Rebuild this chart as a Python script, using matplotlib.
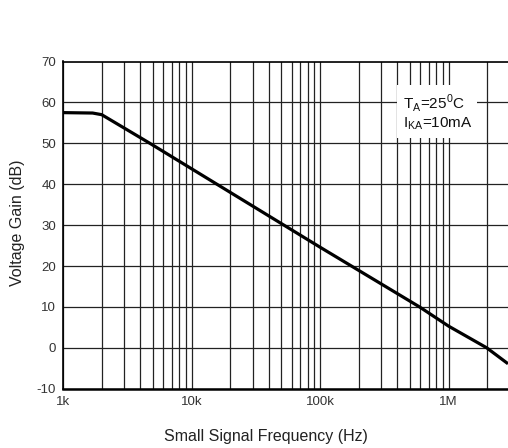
import numpy as np
import matplotlib
matplotlib.use("Agg")
import matplotlib.pyplot as plt
from matplotlib.patches import Rectangle
from matplotlib.ticker import LogLocator, FixedLocator, FixedFormatter, NullFormatter

plt.rcParams['font.family'] = ['Liberation Sans', 'DejaVu Sans']
plt.rcParams['mathtext.fontset'] = 'custom'
plt.rcParams['mathtext.rm'] = 'Liberation Sans'
plt.rcParams['axes.unicode_minus'] = False

# gain curve
freq_hz = [1e3, 1.7e3, 2e3, 4.74e3, 1e5, 5.94e5, 1e6, 1.98e6, 2.9e6]
gain_db = [57.5, 57.4, 57.0, 50.0, 24.6, 10.0, 5.3, 0.0, -3.9]

xticks = [1e3, 1e4, 1e5, 1e6]
xticklabels = ['1k', '10k', '100k', '1M']
yticks = [-10, 0, 10, 20, 30, 40, 50, 60, 70]

fig = plt.figure(figsize=(5.08, 4.48), dpi=100)
ax = fig.add_axes([63/508, 59.3/448, 1 - 63/508, 327.2/448])

ax.set_xscale('log')
ax.set_xlim(1e3, 2.9e6)
ax.set_ylim(-10, 70)

ax.xaxis.set_major_locator(FixedLocator(xticks))
ax.xaxis.set_major_formatter(FixedFormatter(xticklabels))
ax.xaxis.set_minor_locator(LogLocator(base=10, subs=np.arange(2, 10)))
ax.xaxis.set_minor_formatter(NullFormatter())
ax.set_yticks(yticks)

ax.grid(True, which='both', axis='x', color='#222222', lw=0.9)
ax.grid(True, which='major', axis='y', color='#222222', lw=0.9)
ax.set_axisbelow(True)

ax.plot(freq_hz, gain_db, color='black', lw=2.3, solid_capstyle='butt', zorder=3)

ax.tick_params(which='both', length=0, labelsize=9.5, labelcolor='#333333', pad=5)
for s in ['top', 'left']:
    ax.spines[s].set_linewidth(1.2)
ax.spines['bottom'].set_linewidth(1.8)
ax.spines['right'].set_visible(False)

# white patch behind the conditions note
ax.add_patch(Rectangle((0.750, 0.766), 0.180, 0.162, transform=ax.transAxes,
                       facecolor='white', edgecolor='none', zorder=1))
ax.text(0.765, 0.857, 'T$_{\\mathrm{A}}$=25$^{\\mathrm{0}}$C', transform=ax.transAxes,
        fontsize=11, color='#111111', va='baseline', ha='left', zorder=4)
ax.text(0.765, 0.798, 'I$_{\\mathrm{KA}}$=10mA', transform=ax.transAxes,
        fontsize=11, color='#111111', va='baseline', ha='left', zorder=4)

fig.text(265.5/508, 1 - 436/448, 'Small Signal Frequency (Hz)', fontsize=11.5,
         color='#222222', ha='center', va='center')
fig.text(17.5/508, 1 - 222.5/448, 'Voltage Gain (dB)', fontsize=11.5,
         color='#222222', ha='center', va='center', rotation=90)

fig.savefig('out.png', dpi=100)
